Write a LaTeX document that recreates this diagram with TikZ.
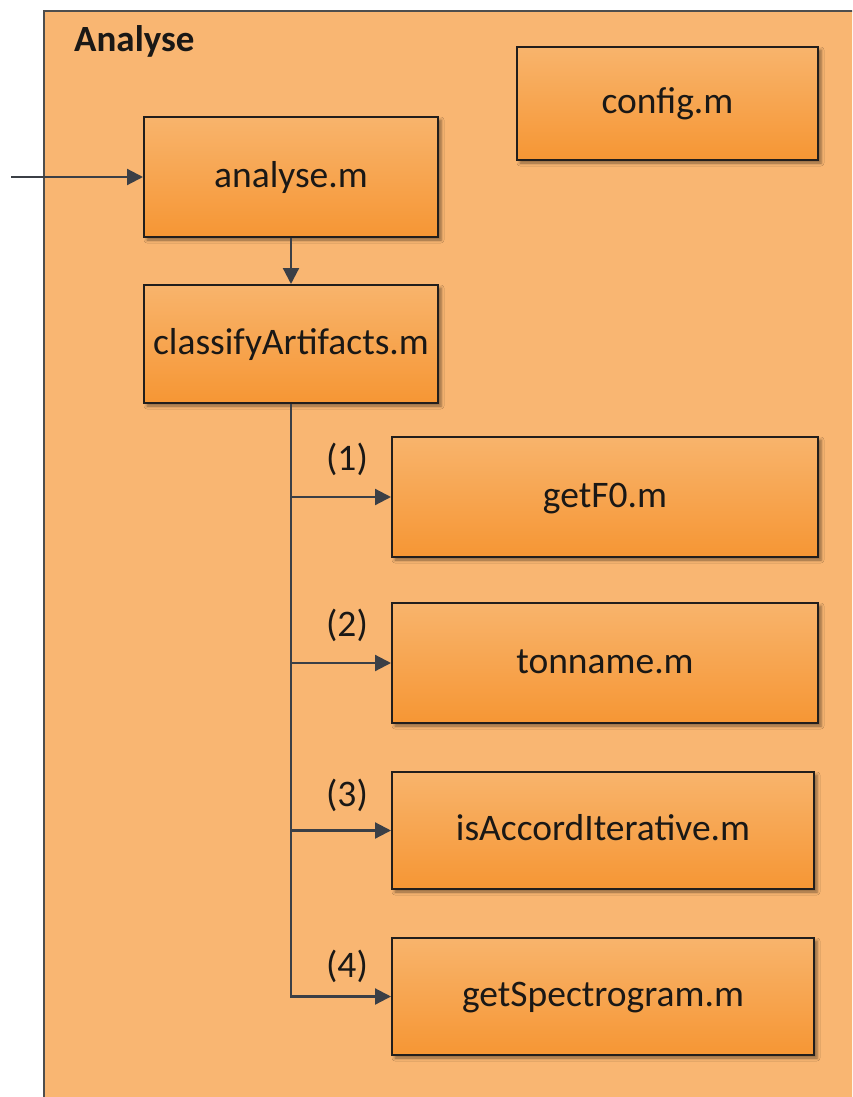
\documentclass[tikz,border=0pt]{standalone}
\usepackage{fontspec}
\setmainfont{Carlito}
\usetikzlibrary{arrows.meta,shadows.blur}
\definecolor{panel}{RGB}{249,182,114}
\definecolor{boxtop}{RGB}{248,180,108}
\definecolor{boxbot}{RGB}{246,150,52}
\definecolor{wire}{RGB}{59,63,70}
\definecolor{edge}{RGB}{34,30,28}
\definecolor{frame}{RGB}{78,78,78}
\definecolor{ink}{RGB}{26,24,22}
\begin{document}
\begin{tikzpicture}[x=1pt,y=-1pt,
  module/.style={draw=edge, line width=2pt, top color=boxtop, bottom color=boxbot,
    inner sep=0pt, text height=20pt, text depth=0pt, text=ink,
    font=\fontsize{37.5}{45}\selectfont,
    blur shadow={shadow xshift=3pt, shadow yshift=-3pt, shadow blur radius=3pt, shadow opacity=45}},
  flow/.style={draw=wire, line width=2.2pt, -{Triangle[length=16pt,width=16pt]}},
  tag/.style={font=\fontsize{37.5}{45}\selectfont, anchor=base, inner sep=0pt, text=ink}]
  % page area
  \clip (0,0) rectangle (852,1097);
  \fill[white] (0,0) rectangle (852,1097);
  % package panel, running off the right and bottom edges
  \fill[panel] (44,11) rectangle (870,1110);
  \draw[frame, line width=2.5pt] (44,1110) -- (44,11) -- (870,11);
  \node[anchor=base west, inner sep=0pt, text=ink,
        font=\bfseries\fontsize{37}{44}\selectfont] (title) at (74,52) {Analyse};

  % modules
  \node[module, minimum width=301pt, minimum height=113pt] (config)   at (667.5,103.5) {config.m};
  \node[module, minimum width=294pt, minimum height=120pt] (analyse)  at (291,177)     {analyse.m};
  \node[module, minimum width=294pt, minimum height=118pt] (classify) at (291,344)     {classifyArtifacts.m};
  \node[module, minimum width=426pt, minimum height=120pt] (f0)       at (605,497)     {getF0.m};
  \node[module, minimum width=426pt, minimum height=120pt] (ton)      at (605,663)     {tonname.m};
  \node[module, minimum width=422pt, minimum height=117pt] (accord)   at (603,830.5)   {isAccordIterative.m};
  \node[module, minimum width=422pt, minimum height=117pt] (spec)     at (603,996.5)   {getSpectrogram.m};

  % connectors
  \coordinate (entry) at (11,177);
  \draw[flow] (entry) -- (analyse.west);
  \draw[flow] (analyse.south) -- (classify.north);
  \draw[flow] (classify.south) -- (classify.south |- spec.west) -- (spec.west);
  \draw[flow] (classify.south |- f0.west) -- (f0.west);
  \draw[flow] (classify.south |- ton.west) -- (ton.west);
  \draw[flow] (classify.south |- accord.west) -- (accord.west);

  % call order
  \node[tag] (n1) at (347,470) {(1)};
  \node[tag] (n2) at (347,636) {(2)};
  \node[tag] (n3) at (347,806) {(3)};
  \node[tag] (n4) at (347,977) {(4)};
\end{tikzpicture}
\end{document}
